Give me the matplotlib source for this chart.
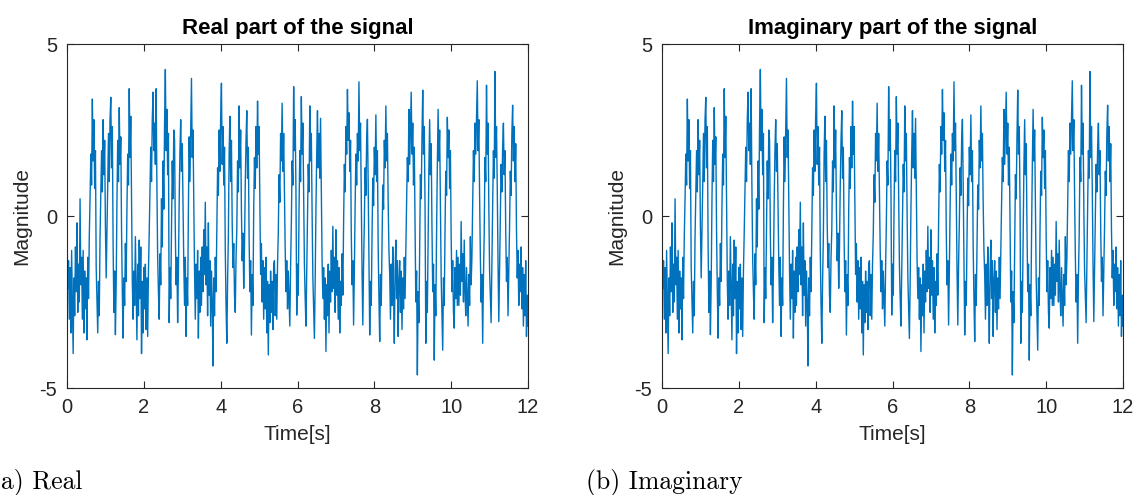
import numpy as np
from matplotlib import pyplot as plt

FIGSIZE = (11.34, 4.95)
TITLE_FONTSIZE = 16
LABEL_FONTSIZE = 15
TICK_FONTSIZE = 14.5
CAPTION_FONTSIZE = 18.5
LINE_COLOR = '#0072BD'
AXIS_COLOR = '#262626'

# sample times (s) and signal values, every 0.02 s
dt = 0.02
signal = [
    # 0.0 - 0.48
    -0.4, -2.1, -1.3, -3.0, -1.5, -3.4, -1.0, -2.6, -4.0, -1.8, -2.9, -0.9, -2.2,
    -0.2, -2.8, -1.4, -2.5, 0.5, -2.0, -1.2, -3.0, -1.0, -3.4, -1.6, -2.7,
    # 0.5 - 0.98
    -1.8, -3.6, -1.2, -2.4, -0.6, 0.5, 1.8, 0.9, 3.4, 1.6, 2.8, 0.8, 1.9,
    -1.5, -2.4, -3.4, -1.9, -2.9, -0.6, 0.6, 1.9, 0.7, 2.8, 1.2, 2.2,
    # 1.0 - 1.48
    -0.3, -1.8, -0.5, 0.9, 2.4, 1.0, 2.8, 3.45, 1.4, 2.6, -0.8, -2.8, -1.6,
    -3.45, -2.0, 0.4, 2.2, 1.0, 3.15, 1.5, 2.3, -0.4, -2.2, -3.55, -1.8,
    # 1.5 - 1.98
    -2.6, -0.8, -1.9, 0.2, 1.8, 0.9, 3.7, 1.7, 2.9, 0.6, -1.9, -3.0, -1.6,
    -2.6, -0.6, -2.2, -3.6, -1.4, -2.9, -0.7, -2.4, -0.9, -4.0, -1.9, -3.4,
    # 2.0 - 2.48
    -1.5, -2.7, -1.4, -3.3, -1.8, -3.5, -1.6, -0.5, 0.8, 2.0, 1.0, 2.8, 3.6,
    1.9, 2.7, 1.5, 3.7, 0.9, -1.2, -2.2, -3.0, -1.1, -2.0, 0.5, -0.9,
    # 2.5 - 2.98
    1.6, 0.2, 2.7, 4.26, 1.9, 3.1, 1.2, 2.4, -3.1, -1.5, -2.4, -0.4, 1.6,
    0.5, 2.5, 2.2, -0.5, -2.0, -1.2, -3.1, -1.6, 0.4, 1.9, 2.8, 1.3,
    # 3.0 - 3.48
    2.1, 0.3, -1.4, -2.6, -1.2, -3.5, -1.8, -2.6, 0.2, 2.3, 1.0, 2.6, 4.0,
    1.7, 2.5, 0.4, -1.6, -3.0, -1.4, -2.4, -1.0, -3.55, -1.6, -2.8, -1.2,
    # 3.5 - 3.98
    -2.6, -0.9, -2.2, -0.4, -1.7, 0.4, -2.0, -0.9, -2.9, -0.2, -2.3, -1.3, -3.2,
    -1.6, -2.5, -4.36, -1.8, -2.9, -1.2, -2.2, -0.3, 1.4, 0.6, 2.5, 1.3,
    # 4.0 - 4.48
    2.9, 3.86, 1.5, 2.6, 0.9, 2.0, -1.0, -2.6, -3.7, -1.9, -0.6, 1.8, 2.9,
    1.0, 2.2, -0.2, -1.5, -0.8, -2.3, -2.8, -1.2, -0.4, 1.6, 0.7, 3.2,
    # 4.5 - 4.98
    1.4, 2.5, 0.2, -1.3, -0.5, -2.1, -0.9, 0.9, 2.2, 3.06, 1.1, 2.0, -0.6,
    -2.2, -1.3, -3.46, -1.7, -2.6, 0.2, 1.7, 0.8, 2.6, 1.4, 3.34, 1.8,
    # 5.0 - 5.48
    2.6, 0.4, -1.7, -0.8, -2.5, -1.3, -3.0, -1.5, -2.7, -1.2, -3.4, -1.9, -4.04,
    -2.0, -3.1, -1.6, -2.8, -1.9, -3.3, -1.4, -1.3, -2.9, -1.7, -3.0, -1.4,
    # 5.5 - 5.98
    -0.5, 1.2, 0.4, 2.4, 1.6, 3.28, 1.3, 2.4, 0.6, -1.0, -2.2, -1.3, -2.7,
    -1.6, -2.4, -3.2, -1.5, -0.2, 1.6, 0.9, 3.76, 1.9, 2.8, 0.7, -2.88,
    # 6.0 - 6.48
    -1.4, -2.3, 0.2, 1.9, 1.0, 3.47, 1.8, 2.7, 0.5, -1.4, -2.4, -3.2, -1.7,
    -0.3, 1.5, 0.7, 3.2, 1.6, 2.4, 0.1, -1.8, -2.7, -3.56, -1.9, 0.2,
    # 6.5 - 6.98
    1.8, 3.06, 1.4, 2.4, 1.1, 2.84, 0.8, -1.3, -2.4, -1.5, -3.0, -1.8, -3.94,
    -2.0, -2.9, -1.4, -3.4, -1.6, -2.5, -1.0, -2.2, -0.3, -2.1, -1.2, -2.8,
    # 7.0 - 7.48
    -0.4, -2.3, -1.3, -3.0, -1.5, -3.4, -1.9, -2.6, -1.1, -2.3, -0.2, 1.5, 0.7,
    2.6, 1.8, 3.68, 2.2, 3.0, 1.3, 2.2, -0.5, -2.0, -1.3, -3.17, -1.6,
    # 7.5 - 7.98
    0.3, 1.8, 0.9, 2.4, 1.6, 3.9, 1.9, 2.7, 0.5, -1.6, -3.17, -1.4, -0.2,
    1.4, 0.6, 2.2, 2.81, 0.9, -1.4, -3.46, -1.9, -2.6, -0.6, 1.1, 0.3,
    # 8.0 - 8.48
    2.0, 1.2, 2.94, 1.0, 1.9, -0.9, -2.4, -3.65, -1.7, -2.6, -0.8, 0.9, 0.2,
    2.2, 1.4, 3.2, 1.6, 2.4, 0.4, -1.0, -1.7, -3.0, -1.4, -2.6, -0.9,
    # 8.5 - 8.98
    -2.2, -3.7, -1.6, -0.7, -2.4, -1.3, -3.5, -1.9, -1.3, -2.8, -1.6, -3.3, -1.8,
    -2.7, -1.2, -2.4, -0.9, 0.4, 1.7, 1.0, 3.1, 1.5, 2.5, 3.6, 1.8,
    # 9.0 - 9.48
    2.7, 0.9, 2.0, -0.4, -2.5, -1.6, -4.62, -2.2, -3.1, -0.8, 1.2, 0.5, 2.3,
    3.66, 1.8, 2.6, 0.3, -3.7, -1.9, -2.8, -0.6, 1.4, 2.8, 1.2, 2.1,
    # 9.5 - 9.98
    -0.3, -2.2, -1.4, -4.19, -2.0, -2.9, -0.5, 1.5, 3.1, 1.6, 2.5, 0.2, -1.8,
    -2.8, -3.9, -1.8, -2.6, -0.4, 1.3, 0.6, 2.87, 1.7, 2.5, 0.8, 1.9,
    # 10.0 - 10.48
    -0.6, -2.2, -1.3, -2.8, -3.26, -1.5, -2.4, -1.0, -2.6, -1.2, -2.6, -1.4, -2.3,
    -0.16, -1.9, -1.1, -2.5, -0.7, -2.2, -2.9, -1.5, -2.4, -3.2, -1.7, -2.6,
    # 10.5 - 10.98
    -0.6, -2.0, -1.2, 0.4, 1.9, 1.0, 2.7, 1.8, 2.9, 3.93, 1.9, 2.8, 0.6,
    -1.2, -2.5, -1.7, -3.7, -1.8, -0.5, 1.7, 1.0, 3.8, 1.8, 2.7, 0.3,
    # 11.0 - 11.48
    -1.6, -2.4, -3.1, -1.3, 0.3, 1.9, 1.1, 4.2, 1.7, 2.6, 0.8, -1.4, -3.07,
    -1.6, -0.2, 1.5, 0.7, 2.0, 2.7, 1.2, 1.9, -0.4, -1.9, -1.2, -2.9,
    # 11.5 - 11.98
    -1.6, -0.3, 1.3, 0.6, 2.4, 3.22, 1.6, 2.6, 1.0, 2.1, -0.4, -1.8, -1.0,
    -2.6, -1.4, -2.2, -0.9, -2.7, -1.5, -3.2, -1.7, -2.9, -1.3, -3.5, -2.3,
    # 12.0
    -3.2,
]
time = np.arange(len(signal)) * dt

x_ticks = [0, 2, 4, 6, 8, 10, 12]
y_ticks = [-5, 0, 5]
titles = ['Real part of the signal', 'Imaginary part of the signal']
captions = ['(a) Real', '(b) Imaginary']


def draw_panel(ax, title):
    ax.plot(time, signal, color=LINE_COLOR, linewidth=1.0)
    ax.set_xlim(0, 12)
    ax.set_ylim(-5, 5)
    ax.set_xticks(x_ticks)
    ax.set_yticks(y_ticks)
    ax.set_title(title, fontsize=TITLE_FONTSIZE, fontweight='bold', pad=7)
    ax.set_xlabel('Time[s]', fontsize=LABEL_FONTSIZE, color=AXIS_COLOR, labelpad=6)
    ax.set_ylabel('Magnitude', fontsize=LABEL_FONTSIZE, color=AXIS_COLOR, labelpad=6)
    ax.tick_params(axis='both', direction='in', labelsize=TICK_FONTSIZE,
                   top=True, right=True, length=5, width=0.8,
                   colors=AXIS_COLOR, pad=7)
    for sp in ax.spines.values():
        sp.set_color(AXIS_COLOR)
        sp.set_linewidth(0.8)


plt.rcParams['font.family'] = ['Liberation Sans', 'DejaVu Sans']
plt.rcParams['axes.unicode_minus'] = False

fig = plt.figure(figsize=FIGSIZE, dpi=100)
ax1 = fig.add_axes([67 / 1134, 107 / 495, 461 / 1134, 344 / 495])
ax2 = fig.add_axes([662 / 1134, 107 / 495, 461 / 1134, 344 / 495])

draw_panel(ax1, titles[0])
draw_panel(ax2, titles[1])

fig.text(-9 / 1134, 6 / 495, captions[0], fontsize=CAPTION_FONTSIZE,
         family=['cmr10', 'DejaVu Serif'], ha='left', va='baseline')
fig.text(586 / 1134, 6 / 495, captions[1], fontsize=CAPTION_FONTSIZE,
         family=['cmr10', 'DejaVu Serif'], ha='left', va='baseline')

fig.savefig('out.png', dpi=100)
